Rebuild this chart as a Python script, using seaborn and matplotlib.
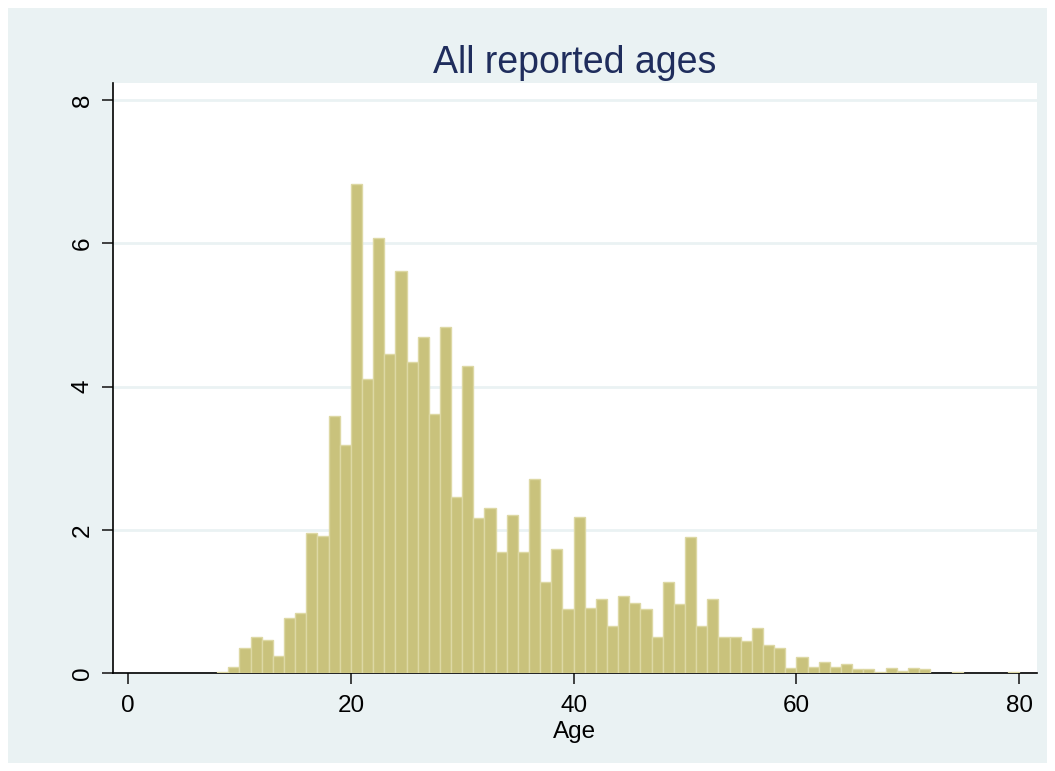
import numpy as np
import pandas as pd
import matplotlib
matplotlib.use('Agg')
import matplotlib.pyplot as plt
import seaborn as sns
from matplotlib.patches import Rectangle

# bin starts (age) and percent heights
ages = list(range(8, 80))
percent = [
    0.02, 0.08, 0.35, 0.50, 0.46, 0.24, 0.77, 0.84, 1.95, 1.92,   # 8-17
    3.59, 3.19, 6.83, 4.10, 6.07, 4.46, 5.61, 4.34, 4.69, 3.62,   # 18-27
    4.83, 2.46, 4.29, 2.16, 2.30, 1.69, 2.21, 1.69, 2.71, 1.27,   # 28-37
    1.73, 0.90, 2.18, 0.91, 1.03, 0.65, 1.08, 0.98, 0.89, 0.50,   # 38-47
    1.27, 0.96, 1.90, 0.65, 1.03, 0.50, 0.50, 0.45, 0.63, 0.39,   # 48-57
    0.35, 0.07, 0.23, 0.08, 0.16, 0.08, 0.12, 0.05, 0.05, 0.02,   # 58-67
    0.07, 0.03, 0.07, 0.05, 0.00, 0.00, 0.02, 0.00, 0.00, 0.00,   # 68-77
    0.00, 0.02,                                                   # 78-79
]
x_ticks = [0, 20, 40, 60, 80]
y_ticks = [0, 2, 4, 6, 8]

# centre of each one-year bin so it lands in [age, age+1)
df = pd.DataFrame({'age': np.array(ages) + 0.5, 'pct': percent})

sns.set_style('white')
plt.rcParams['font.family'] = ['Liberation Sans', 'DejaVu Sans']

panel = '#EAF2F3'
fig = plt.figure(figsize=(10.55, 7.71), dpi=100)
fig.patches.append(Rectangle((8 / 1055, 8 / 771), 1039 / 1055, 755 / 771,
                             transform=fig.transFigure, facecolor=panel,
                             edgecolor='none', zorder=-10))

ax = fig.add_axes([113 / 1055, 98 / 771, 924 / 1055, 590 / 771])
ax.set_facecolor('white')

sns.histplot(data=df, x='age', weights='pct', binwidth=1, binrange=(8, 80),
             stat='count', ax=ax, color='#C9C27C', alpha=1,
             edgecolor='#DDD8A4', linewidth=1.0, zorder=3)

# empty bins draw nothing in the original
for p in ax.patches:
    if p.get_height() == 0:
        p.set_visible(False)

ax.set_xlim(-1.35, 81.6)
ax.set_ylim(0, 8.24)
ax.set_xticks(x_ticks)
ax.set_yticks(y_ticks)
ax.set_yticklabels([str(v) for v in y_ticks], rotation=90, va='center')
ax.yaxis.grid(True, color=panel, linewidth=2, zorder=0)
ax.set_axisbelow(True)

for s in ['top', 'right']:
    ax.spines[s].set_visible(False)
for s in ['left', 'bottom']:
    ax.spines[s].set_color('black')
    ax.spines[s].set_linewidth(1.2)

ax.tick_params(axis='both', direction='out', length=8, width=1.2,
               color='#222222', labelsize=17.5, labelcolor='black', left=True,
               bottom=True)
ax.tick_params(axis='x', pad=8)
ax.tick_params(axis='y', pad=6)

ax.set_xlabel('Age', fontsize=17.5, color='black', labelpad=3)
ax.set_ylabel('')
ax.set_title('All reported ages', fontsize=27, color='#1F2D5C', pad=7)

fig.savefig('out.png', dpi=100, facecolor='white')
